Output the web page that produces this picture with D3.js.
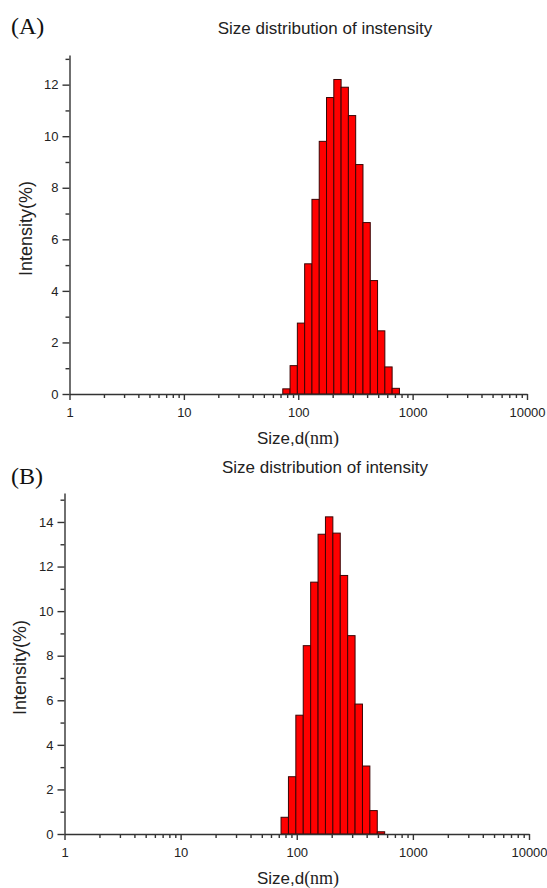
<!DOCTYPE html>
<html lang="en">
<head>
<meta charset="UTF-8" />
<title>Size distribution (DLS)</title>
<script src="https://d3js.org/d3.v7.min.js"></script>
<style>
  body { margin: 0; background: #fff; }
  svg { display: block; }
  .tick text { font-family: "Liberation Sans", Arial, sans-serif; font-size: 13px; fill: #222; }
  .domain, .tick line { stroke: #333; stroke-width: 1.4; }
  .bar { fill: #ff0000; stroke: #3a0505; stroke-width: 1; }
  .title { font-family: "Liberation Sans", Arial, sans-serif; font-size: 17px; fill: #222; }
  .panel { font-family: "Liberation Serif", "Times New Roman", serif; font-size: 24px; fill: #111; }
  .ylab { font-family: "Liberation Sans", Arial, sans-serif; font-size: 18px; fill: #222; }
  .xlab { font-family: "Liberation Sans", Arial, sans-serif; font-size: 17px; fill: #222; }
  .serif { font-family: "Liberation Serif", "Times New Roman", serif; font-size: 18px; }
</style>
</head>
<body>
<svg id="chart" width="547" height="888"></svg>
<script>
/* ---------- data ---------- */
const sizeTicks = [1, 10, 100, 1000, 10000];

const sizesA = [78.82, 91.28, 105.7, 122.4, 141.8, 164.2, 190.1, 220.2, 255.0, 295.3, 342.0, 396.1, 458.7, 531.2, 615.1, 712.4];
const intensityA = [0.2, 1.1, 2.75, 5.05, 7.55, 9.8, 11.5, 12.2, 11.9, 10.8, 8.9, 6.65, 4.4, 2.45, 1.05, 0.22];

const sizesB = [78.82, 91.28, 105.7, 122.4, 141.8, 164.2, 190.1, 220.2, 255.0, 295.3, 342.0, 396.1, 458.7, 531.2];
const intensityB = [0.75, 2.57, 5.33, 8.45, 11.3, 13.45, 14.23, 13.5, 11.6, 8.9, 5.83, 3.05, 1.05, 0.1];

const svg = d3.select("#chart");

/* ---------- one panel ---------- */
function drawPanel(p) {
  const g = svg.append("g");

  const x = d3.scaleLog().domain([1, 10000]).range([p.left, p.right]);
  const y = d3.scaleLinear().domain([0, p.yMax]).range([p.bottom, p.top]);

  // bars, centred on the size class, edges half a class step either side
  const step = Math.sqrt(p.sizes[1] / p.sizes[0]);
  g.selectAll(".bar")
    .data(p.sizes.map((s, i) => ({ s, v: p.values[i] })))
    .enter().append("rect")
    .attr("class", "bar")
    .attr("x", d => x(d.s / step))
    .attr("width", d => x(d.s * step) - x(d.s / step))
    .attr("y", d => y(d.v))
    .attr("height", d => y(0) - y(d.v));

  // minor x ticks (2..9 per decade)
  const minorX = [];
  for (let dec = 1; dec < 10000; dec *= 10)
    for (let k = 2; k <= 9; k++) minorX.push(dec * k);
  g.append("g")
    .attr("transform", `translate(0,${p.bottom})`)
    .call(d3.axisBottom(x).tickValues(minorX).tickSize(4).tickFormat(""))
    .select(".domain").remove();

  g.append("g")
    .attr("transform", `translate(0,${p.bottom})`)
    .call(d3.axisBottom(x).tickValues(sizeTicks).tickSize(6).tickSizeOuter(0)
      .tickFormat(d3.format("d")))
    .selectAll("text").attr("dy", "1.05em");

  // y axis, minor every 1
  const minorY = d3.range(1, Math.floor(p.yMax) + 1, 2);
  g.append("g")
    .attr("transform", `translate(${p.left},0)`)
    .call(d3.axisLeft(y).tickValues(minorY).tickSize(4).tickFormat(""))
    .select(".domain").remove();

  g.append("g")
    .attr("transform", `translate(${p.left},0)`)
    .call(d3.axisLeft(y).tickValues(d3.range(0, p.yMax, 2)).tickSize(7).tickSizeOuter(0))
    .selectAll("text").attr("dx", "-1px");

  // labels
  g.append("text").attr("class", "panel")
    .attr("x", 11).attr("y", p.panelY).text(p.panel);

  g.append("text").attr("class", "title")
    .attr("x", p.titleX).attr("y", p.titleY)
    .attr("text-anchor", "middle").text(p.title);

  g.append("text").attr("class", "ylab")
    .attr("transform", `translate(${p.ylabX},${(p.top + p.bottom) / 2 + 4}) rotate(-90)`)
    .attr("text-anchor", "middle").text("Intensity(%)");

  const xl = g.append("text").attr("class", "xlab")
    .attr("x", p.xlabX).attr("y", p.xlabY).attr("text-anchor", "middle");
  xl.append("tspan").text("Size,d");
  xl.append("tspan").attr("class", "serif").text("(nm)");
}

drawPanel({
  panel: "(A)", panelY: 34,
  title: "Size distribution of instensity", titleX: 325, titleY: 34,
  sizes: sizesA, values: intensityA, yMax: 13.15,
  left: 69.5, right: 527, top: 55, bottom: 394,
  ylabX: 32, xlabX: 298, xlabY: 444
});

drawPanel({
  panel: "(B)", panelY: 484,
  title: "Size distribution of intensity", titleX: 325, titleY: 473,
  sizes: sizesB, values: intensityB, yMax: 15.3,
  left: 64.5, right: 529, top: 493, bottom: 834,
  ylabX: 26, xlabX: 298, xlabY: 884
});
</script>
</body>
</html>
